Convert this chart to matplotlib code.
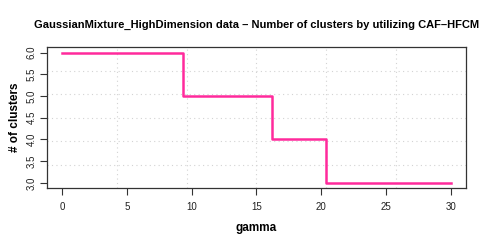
import matplotlib
matplotlib.use("Agg")
import matplotlib.pyplot as plt
import numpy as np

gamma = [0, 9.3, 16.2, 20.35, 30]
clusters = [6, 5, 4, 3, 3]
xticks = [0, 5, 10, 15, 20, 25, 30]
yticks = [3.0, 3.5, 4.0, 4.5, 5.0, 5.5, 6.0]
title = "GaussianMixture_HighDimension data \u2013 Number of clusters by utilizing CAF\u2013HFCM"

plt.rcParams['font.family'] = ['Liberation Sans', 'DejaVu Sans']

fig = plt.figure(figsize=(4.91, 2.47), dpi=100)
ax = fig.add_axes([46.8/491, 1-188.2/247, (466.2-46.8)/491, (188.2-47.3)/247])

xr = max(gamma) - min(gamma)
x0, x1 = min(gamma) - 0.04*xr, max(gamma) + 0.04*xr
yr = max(clusters) - min(clusters)
y0, y1 = min(clusters) - 0.04*yr, max(clusters) + 0.04*yr
ax.set_xlim(x0, x1)
ax.set_ylim(y0, y1)

# R grid(): equally spaced cells over plot region
for gx in np.linspace(x0, x1, 7)[1:-1]:
    ax.axvline(gx, color='lightgray', linestyle=(0, (1, 3)), linewidth=0.8, zorder=1)
for gy in np.linspace(y0, y1, 7)[1:-1]:
    ax.axhline(gy, color='lightgray', linestyle=(0, (1, 3)), linewidth=0.8, zorder=1)

ax.plot(gamma, clusters, drawstyle='steps-post', color='#ff2a9c', linewidth=1.8, zorder=3)

ax.set_xticks(xticks)
ax.set_xticklabels([str(t) for t in xticks])
ax.set_yticks(yticks)
ax.set_yticklabels([f"{t:.1f}" for t in yticks], rotation=90, va='center')
ax.tick_params(axis='both', labelsize=7, length=5, width=0.8, color='#333333', labelcolor='#222222')
ax.tick_params(axis='x', pad=5)
ax.tick_params(axis='y', pad=2.5)
for s in ax.spines.values():
    s.set_linewidth(0.9)
    s.set_color('#333333')

ax.set_xlabel("gamma", fontsize=8.5, fontweight='bold')
ax.set_ylabel("# of clusters", fontsize=8.5, fontweight='bold')
ax.yaxis.set_label_coords(-0.062, 0.5)
ax.xaxis.set_label_coords(0.5, -0.243)
ax.set_title(title, fontsize=8.0, fontweight='bold', pad=14)

fig.savefig("out.png", dpi=100)
